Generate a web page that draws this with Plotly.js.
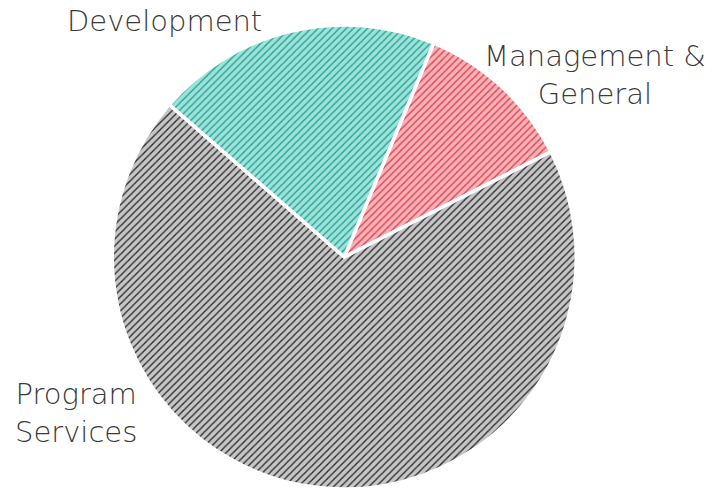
<!DOCTYPE html>
<html>
<head>
<meta charset="utf-8">
<script src="https://cdn.plot.ly/plotly-3.0.1.min.js"></script>
<style>html,body{margin:0;padding:0;background:#fff;}#chart{width:724px;height:491px;}</style>
</head>
<body>
<div id="chart"></div>
<script>
const categories = ["Management & General", "Program Services", "Development"];
const values = [11.2, 68.9, 19.9];
const labelLines = ["Management &<br>General", "Program<br>Services", "Development"];

const bgColors = ["#f7b3b7", "#c6c6c6", "#9ae4da"];
const fgColors = ["#e2404f", "#2e2e2e", "#2f9d93"];

const trace = {
  type: "pie",
  labels: categories,
  values: values,
  sort: false,
  direction: "clockwise",
  rotation: 22.7,
  textinfo: "none",
  hoverinfo: "label+percent",
  domain: {x: [0.155, 0.796], y: [0.004, 0.949]},
  marker: {
    colors: bgColors,
    line: {color: "#ffffff", width: 3.5},
    pattern: {shape: "/", bgcolor: bgColors, fgcolor: fgColors, size: 5, solidity: 0.28}
  },
  showlegend: false
};

const font = {family: "DejaVu Sans, sans-serif", size: 29, color: "#3a3a3a", weight: 200};
const layout = {
  width: 724, height: 491,
  margin: {l: 0, r: 0, t: 0, b: 0},
  paper_bgcolor: "#ffffff",
  showlegend: false,
  annotations: [
    {text: labelLines[2], x: 164, y: 470, showarrow: false, font: font, xanchor: "center", yanchor: "middle", align: "center"},
    {text: labelLines[0], x: 595, y: 416, showarrow: false, font: font, xanchor: "center", yanchor: "middle", align: "center"},
    {text: labelLines[1], x: 76, y: 78, showarrow: false, font: font, xanchor: "center", yanchor: "middle", align: "center"}
  ].map(a => Object.assign(a, {xref: "paper", yref: "paper", x: a.x / 724, y: a.y / 491}))
};

Plotly.newPlot("chart", [trace], layout, {displayModeBar: false, staticPlot: true});
</script>
</body>
</html>
